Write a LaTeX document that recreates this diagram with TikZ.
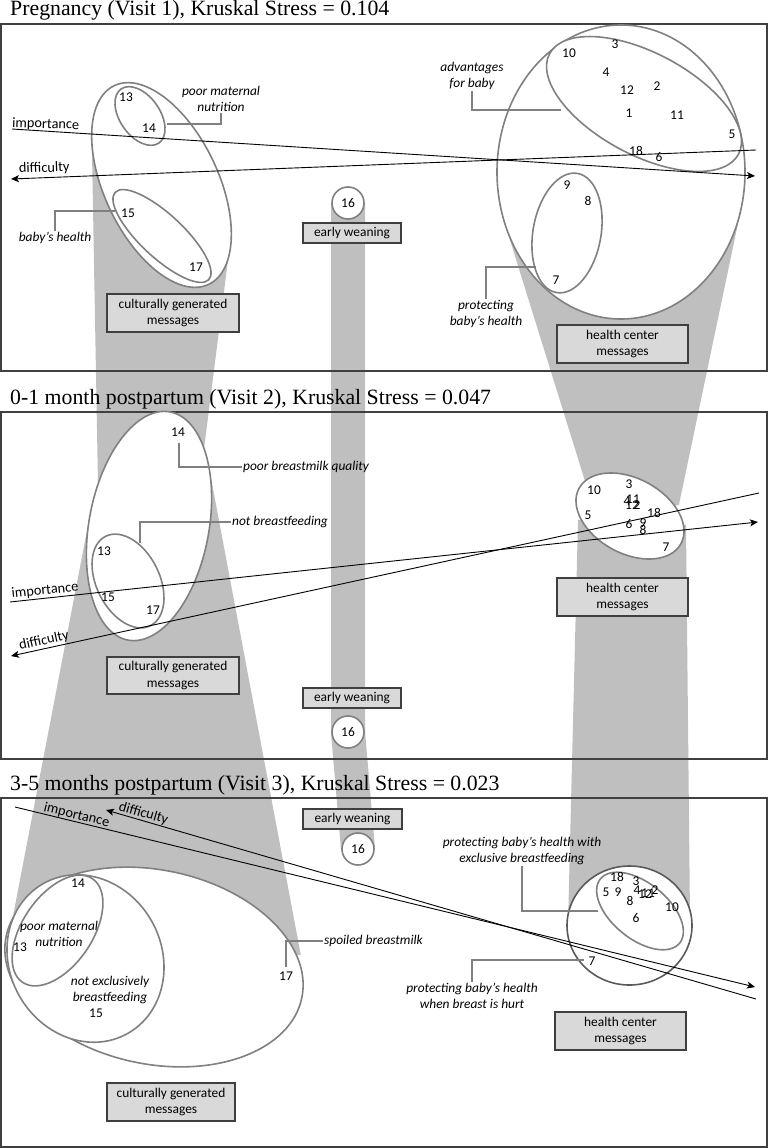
\documentclass[tikz,border=0pt]{standalone}
\usepackage{fontspec}
\setmainfont{Carlito}
\newfontfamily\titlefont{Liberation Serif}
\usetikzlibrary{shapes.geometric,arrows.meta}
\definecolor{bandgray}{HTML}{BFBFBF}
\definecolor{elgray}{HTML}{808080}
\definecolor{darkel}{HTML}{5A5A5A}
\definecolor{boxfill}{HTML}{D9D9D9}
\definecolor{boxborder}{HTML}{3F3F3F}
\definecolor{framegray}{HTML}{404040}
\tikzset{
  band/.style={fill=bandgray, draw=none},
  frame/.style={draw=framegray, line width=1.3},
  grp/.style={ellipse, draw=elgray, line width=1.6, fill=white, inner sep=0},
  lbl/.style={font=\fontsize{13.4}{16}\selectfont\itshape, inner sep=1, align=center},
  num/.style={font=\fontsize{13.4}{16}\selectfont, inner sep=0},
  axlbl/.style={font=\fontsize{14.3}{17}\selectfont, inner sep=0, anchor=base west},
  msgbox/.style={draw=boxborder, fill=boxfill, line width=1.2, font=\fontsize{13.4}{16.3}\selectfont, align=center, inner sep=0},
  axis/.style={draw=black, line width=0.9},
  arr/.style={-{Stealth[length=8pt,width=7pt,inset=2pt]}},
  callout/.style={draw=elgray, line width=1.5},
  ttl/.style={font=\titlefont\fontsize{21.8}{26}\selectfont, anchor=base west, inner sep=0},
  circ/.style={circle, draw=elgray, fill=white, line width=1.6, minimum size=32, inner sep=0, font=\fontsize{13.4}{16}\selectfont}
}
\begin{document}
\begin{tikzpicture}[x=1pt,y=-1pt]
\useasboundingbox (0,0) rectangle (768,1148);
% ---------- gray bands ----------
\fill[band] (161.5,185) -- (91.7,136) -- (99,540) -- (149,526) -- (197.5,500) -- (231.3,234) -- cycle;
\fill[band] (149,526) -- (90.3,513.4) -- (6.5,950) -- (154,967) -- (300.8,955) -- (208.8,466.4) -- cycle;
\fill[band] (621,172) -- (504.7,223) -- (594,510) -- (630,516) -- (678.9,505) -- (741.3,207.6) -- cycle;
\fill[band] (630,516) -- (578,520) -- (568,925) -- (629.5,925.5) -- (690,918) -- (686,525) -- cycle;
\draw[draw=bandgray, line width=34] (348,203) -- (348,732) -- (358,849);
% ---------- titles and frames ----------
\node[ttl] (t1) at (10,16) {Pregnancy (Visit 1), Kruskal Stress = 0.104};
\node[ttl] (t2) at (10,404) {0-1 month postpartum (Visit 2), Kruskal Stress = 0.047};
\node[ttl] (t3) at (10,790) {3-5 months postpartum (Visit 3), Kruskal Stress = 0.023};
\draw[frame] (1,24) rectangle (767,371);
\draw[frame] (1,412) rectangle (767,759);
\draw[frame] (1,798) rectangle (767,1147);
% ---------- panel 1 ellipses ----------
\node[grp, minimum width=220, minimum height=114, rotate=-64.6] (E1) at (161.5,185) {};
\node[grp, minimum width=66, minimum height=40, rotate=-55] (E1a) at (140,116) {};
\node[grp, minimum width=128, minimum height=43, rotate=-43] (E1b) at (162,236) {};
\node[grp, minimum width=248, minimum height=294] (R1) at (621,172) {};
\node[grp, minimum width=214, minimum height=102, rotate=-28] (R1a) at (644,104) {};
\node[grp, minimum width=121, minimum height=68, rotate=80] (R1b) at (567,233) {};
% ---------- panel 2 ellipses ----------
\node[grp, minimum width=232, minimum height=120, rotate=79.6] (E2) at (149,526) {};
\node[grp, minimum width=100, minimum height=63, rotate=-63.4] (E2a) at (128,581) {};
\node[grp, minimum width=116, minimum height=75, rotate=-28.5] (R2) at (630,516) {};
% ---------- panel 3 ellipses ----------
\node[grp, minimum width=302, minimum height=194, rotate=-11.8] (E3) at (154,967) {};
\node[grp, minimum width=172, minimum height=152, rotate=-60.7] (E3m) at (85.5,958.5) {};
\node[grp, minimum width=125, minimum height=70, rotate=56] (E3s) at (57.5,930.5) {};
\node[grp, draw=darkel, minimum width=125, minimum height=119] (R3) at (629.5,925.5) {};
\node[grp, minimum width=102, minimum height=56, rotate=-39] (R3a) at (640,911) {};
% ---------- circles 16 ----------
\node[circ] (c16a) at (348,203) {16};
\node[circ] (c16b) at (348,732) {16};
\node[circ] (c16c) at (358,849) {16};
% ---------- axes ----------
\coordinate (i1s) at (12,129); \coordinate (i1e) at (755,176);
\coordinate (d1s) at (756,150); \coordinate (d1e) at (11,179);
\draw[axis,arr] (i1s) -- (i1e);
\draw[axis,arr] (d1s) -- (d1e);
\node[axlbl, rotate=-2] (li1) at (12,127) {importance};
\node[axlbl, rotate=2] (ld1) at (19,173) {difficulty};
\coordinate (i2s) at (10,602); \coordinate (i2e) at (758,522);
\coordinate (d2s) at (759,493); \coordinate (d2e) at (11,656);
\draw[axis,arr] (i2s) -- (i2e);
\draw[axis,arr] (d2s) -- (d2e);
\node[axlbl, rotate=6.1] (li2) at (12,598) {importance};
\node[axlbl, rotate=12.3] (ld2) at (20,650) {difficulty};
\coordinate (i3s) at (15,807); \coordinate (i3e) at (755,987);
\coordinate (d3s) at (756,999); \coordinate (d3e) at (106,810);
\draw[axis,arr] (i3s) -- (i3e);
\draw[axis,arr] (d3s) -- (d3e);
\node[axlbl, rotate=-13.7] (li3) at (43,811) {importance};
\node[axlbl, rotate=-16.2] (ld3) at (118,810) {difficulty};
% ---------- message boxes ----------
\node[msgbox, minimum width=132, minimum height=38] (cg1) at (173,313) {culturally generated\\messages};
\node[msgbox, minimum width=132, minimum height=37] (cg2) at (173,675.5) {culturally generated\\messages};
\node[msgbox, minimum width=128, minimum height=38] (cg3) at (171,1102) {culturally generated\\messages};
\node[msgbox, minimum width=131, minimum height=38] (hc1) at (622.5,344) {health center\\messages};
\node[msgbox, minimum width=131, minimum height=38] (hc2) at (622.5,597) {health center\\messages};
\node[msgbox, minimum width=131, minimum height=38] (hc3) at (620.5,1031) {health center\\messages};
\node[msgbox, minimum width=98, minimum height=20] (ew1) at (352,233) {early weaning};
\node[msgbox, minimum width=98, minimum height=20] (ew2) at (352,698) {early weaning};
\node[msgbox, minimum width=99, minimum height=20] (ew3) at (352.5,819) {early weaning};
% ---------- panel 1 numbers ----------
\node[num] (n1-13) at (126,97) {13};
\node[num] (n1-14) at (149,128) {14};
\node[num] (n1-15) at (128,213) {15};
\node[num] (n1-17) at (196,267) {17};
\node[num] (n1-10) at (569,53) {10};
\node[num] (n1-3) at (615,44) {3};
\node[num] (n1-4) at (606,72) {4};
\node[num] (n1-12) at (627,90) {12};
\node[num] (n1-2) at (657,86) {2};
\node[num] (n1-1) at (629,113) {1};
\node[num] (n1-11) at (677,115) {11};
\node[num] (n1-5) at (732,134) {5};
\node[num] (n1-18) at (636,151) {18};
\node[num] (n1-6) at (659,157) {6};
\node[num] (n1-9) at (567,185) {9};
\node[num] (n1-8) at (588,201) {8};
\node[num] (n1-7) at (556,280) {7};
% ---------- panel 1 labels ----------
\node[lbl] (lPMN) at (221,99) {poor maternal\\nutrition};
\coordinate (k1) at (167,124);
\draw[callout] (k1) -| (lPMN.south);
\node[lbl] (lBH) at (55,238) {baby’s health};
\coordinate (k2) at (115,211);
\draw[callout] (k2) -| (lBH.north);
\node[lbl] (lAdv) at (472,76) {advantages\\for baby};
\coordinate (k3) at (561,110);
\draw[callout] (k3) -| (lAdv.south);
\node[lbl] (lPBH) at (486,314) {protecting\\baby’s health};
\coordinate (k4) at (536,267);
\draw[callout] (k4) -| (lPBH.north);
% ---------- panel 2 numbers ----------
\node[num] (n2-14) at (178,432) {14};
\node[num] (n2-13) at (104,551) {13};
\node[num] (n2-15) at (108,597) {15};
\node[num] (n2-17) at (153,610) {17};
\node[num] (n2-10) at (594,490) {10};
\node[num] (n2-3) at (629,484) {3};
\node[num] (n2-4) at (627,501) {4};
\node[num] (n2-11) at (633,499) {11};
\node[num] (n2-12) at (632,505) {12};
\node[num] (n2-2) at (637,505) {2};
\node[num] (n2-5) at (588,515) {5};
\node[num] (n2-18) at (654,513) {18};
\node[num] (n2-6) at (629,524) {6};
\node[num] (n2-9) at (643,523) {9};
\node[num] (n2-8) at (643,530) {8};
\node[num] (n2-7) at (666,547) {7};
% ---------- panel 2 labels ----------
\node[lbl, anchor=west] (lPBQ) at (242,467) {poor breastmilk quality};
\coordinate (k5) at (179,443);
\draw[callout] (k5) |- (lPBQ.west);
\node[lbl, anchor=west] (lNB) at (231,522) {not breastfeeding};
\coordinate (k6) at (140,543);
\draw[callout] (k6) |- (lNB.west);
% ---------- panel 3 numbers ----------
\node[num] (n3-14) at (78,883) {14};
\node[num] (n3-13) at (20,947) {13};
\node[num] (n3-15) at (96,1013) {15};
\node[num] (n3-17) at (286,976) {17};
\node[num] (n3-18) at (617,877) {18};
\node[num] (n3-3) at (636,881) {3};
\node[num] (n3-5) at (606,892) {5};
\node[num] (n3-9) at (618,892) {9};
\node[num] (n3-4) at (637,890) {4};
\node[num] (n3-12) at (645,894) {12};
\node[num] (n3-11) at (648,893) {11};
\node[num] (n3-2) at (655,890) {2};
\node[num] (n3-8) at (630,901) {8};
\node[num] (n3-10) at (672,907) {10};
\node[num] (n3-6) at (636,918) {6};
\node[num] (n3-7) at (592,961) {7};
% ---------- panel 3 labels ----------
\node[lbl] (lPMN3) at (59,934) {poor maternal\\nutrition};
\node[lbl] (lNEB) at (110,989.5) {not exclusively\\breastfeeding};
\node[lbl, anchor=west] (lSB) at (323,941) {spoiled breastmilk};
\coordinate (k7) at (286,967);
\draw[callout] (k7) |- (lSB.west);
\node[lbl] (lPEx) at (522,851) {protecting baby’s health with\\exclusive breastfeeding};
\coordinate (k8) at (598,911);
\draw[callout] (k8) -| (lPEx.south);
\node[lbl] (lPHurt) at (472,995.5) {protecting baby’s health\\when breast is hurt};
\coordinate (k9) at (584,960);
\draw[callout] (k9) -| (lPHurt.north);
\end{tikzpicture}
\end{document}
